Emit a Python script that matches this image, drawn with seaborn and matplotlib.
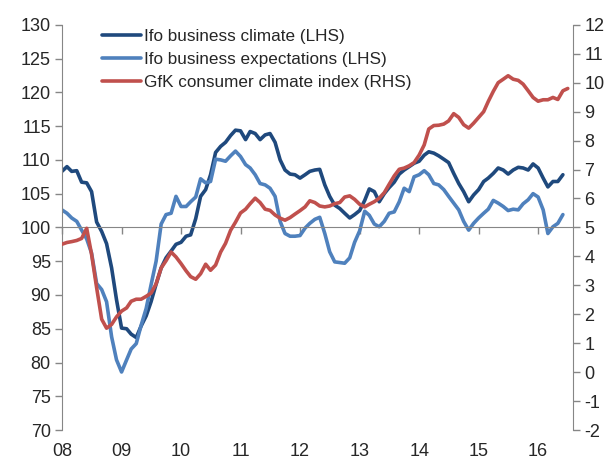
import pandas as pd
import numpy as np
import matplotlib
matplotlib.use('Agg')
import matplotlib.pyplot as plt
import matplotlib.dates as mdates
import seaborn as sns

# Monthly readings, Jan 2008 onwards
ifo_climate = [108.3, 109.0, 108.3, 108.4, 106.7, 106.6, 105.3, 100.8, 99.4, 97.6,
               94.0, 89.3, 85.1, 85.0, 84.2, 83.7, 85.4, 86.9, 89.0, 91.6,
               94.0, 95.5, 96.5, 97.5, 97.8, 98.7, 98.9, 101.3, 104.6, 105.6,
               107.8, 111.1, 112.0, 112.6, 113.6, 114.4, 114.3, 113.0, 114.2, 113.9,
               113.0, 113.7, 113.9, 112.6, 110.0, 108.5, 107.9, 107.8, 107.3, 107.8,
               108.3, 108.5, 108.6, 106.3, 104.6, 103.3, 102.8, 102.1, 101.4, 101.9,
               102.5, 104.0, 105.7, 105.3, 103.8, 105.0, 105.9, 106.7, 107.9, 108.5,
               109.0, 109.5, 109.8, 110.7, 111.2, 111.0, 110.6, 110.1, 109.6, 108.0,
               106.5, 105.3, 103.8, 104.8, 105.6, 106.8, 107.3, 108.0, 108.8, 108.5,
               107.9, 108.5, 108.9, 108.8, 108.5, 109.4, 108.8, 107.3, 106.0, 106.8,
               106.8, 107.8]

ifo_expect = [102.6, 102.1, 101.4, 100.9, 99.6, 98.3, 96.2, 91.7, 90.8, 89.0,
              83.8, 80.4, 78.6, 80.4, 82.0, 82.8, 85.5, 88.0, 91.5, 95.0,
              100.5, 101.9, 102.1, 104.6, 103.1, 103.1, 103.8, 104.5, 107.2, 106.6,
              106.8, 110.1, 110.0, 109.8, 110.6, 111.3, 110.5, 109.3, 108.8, 107.8,
              106.5, 106.3, 105.8, 104.6, 100.9, 99.1, 98.7, 98.7, 98.8, 99.9,
              100.6, 101.2, 101.5, 99.1, 96.4, 94.9, 94.8, 94.7, 95.5, 97.8,
              99.5, 102.4, 101.8, 100.5, 100.1, 100.9, 102.1, 102.3, 103.8, 105.8,
              105.3, 107.5, 107.8, 108.4, 107.8, 106.5, 106.3, 105.6, 104.6, 103.6,
              102.6, 100.9, 99.6, 100.6, 101.4, 102.1, 102.7, 104.0, 103.6, 103.1,
              102.5, 102.7, 102.6, 103.5, 104.1, 105.0, 104.5, 102.6, 99.1, 100.1,
              100.6, 101.9]

gfk = [4.42, 4.48, 4.51, 4.55, 4.62, 4.97, 4.07, 2.92, 1.83, 1.52,
       1.65, 1.91, 2.11, 2.22, 2.45, 2.52, 2.52, 2.62, 2.73, 3.05,
       3.60, 3.85, 4.15, 3.98, 3.75, 3.50, 3.30, 3.21, 3.40, 3.73,
       3.52, 3.70, 4.15, 4.45, 4.90, 5.18, 5.50, 5.63, 5.82, 6.01,
       5.86, 5.63, 5.59, 5.43, 5.32, 5.25, 5.34, 5.46, 5.58, 5.71,
       5.92, 5.86, 5.74, 5.71, 5.74, 5.82, 5.86, 6.05, 6.09, 5.97,
       5.80, 5.71, 5.80, 5.89, 6.01, 6.20, 6.49, 6.78, 7.01, 7.05,
       7.13, 7.24, 7.50, 7.85, 8.40, 8.52, 8.53, 8.57, 8.68, 8.93,
       8.80, 8.55, 8.43, 8.60, 8.80, 9.00, 9.35, 9.70, 10.00, 10.12,
       10.24, 10.12, 10.08, 9.95, 9.72, 9.49, 9.36, 9.41, 9.41, 9.49,
       9.42, 9.72, 9.80]

labels = ['Ifo business climate (LHS)', 'Ifo business expectations (LHS)',
          'GfK consumer climate index (RHS)']
colors = ['#1F497D', '#4F81BD', '#C0504D']

dates_ifo = pd.date_range('2008-01-01', periods=len(ifo_climate), freq='MS')
dates_gfk = pd.date_range('2008-01-01', periods=len(gfk), freq='MS')

sns.set_style('white')
plt.rcParams['font.family'] = ['Liberation Sans', 'DejaVu Sans']
plt.rcParams['axes.unicode_minus'] = False

fig = plt.figure(figsize=(6.13, 4.59), dpi=100)
ax = fig.add_axes([0.101, 0.063, 0.834, 0.883])
ax2 = ax.twinx()

lw = 2.6
sns.lineplot(x=dates_ifo, y=ifo_climate, ax=ax, color=colors[0], linewidth=lw, label=labels[0], legend=False)
sns.lineplot(x=dates_ifo, y=ifo_expect, ax=ax, color=colors[1], linewidth=lw, label=labels[1], legend=False)
sns.lineplot(x=dates_gfk, y=gfk, ax=ax2, color=colors[2], linewidth=lw, label=labels[2], legend=False)

gray = '#868686'
ax.set_ylim(70, 130)
ax.set_yticks(np.arange(70, 131, 5))
ax2.set_ylim(-2, 12)
ax2.set_yticks(np.arange(-2, 13, 1))
ax.set_xlim(pd.Timestamp('2008-01-01'), pd.Timestamp('2016-08-03'))

for a in (ax, ax2):
    for s in a.spines.values():
        s.set_visible(False)
    a.set_xlabel('')
    a.set_ylabel('')
    a.grid(False)

ax.spines['left'].set_visible(True)
ax.spines['left'].set_color(gray)
ax.spines['bottom'].set_visible(True)
ax.spines['bottom'].set_color(gray)
ax.spines['bottom'].set_position(('data', 100))
ax2.spines['right'].set_visible(True)
ax2.spines['right'].set_color(gray)

ax.xaxis.set_major_locator(mdates.YearLocator())
ax.xaxis.set_major_formatter(mdates.DateFormatter('%y'))

ax.tick_params(axis='y', direction='out', length=5, width=1, color=gray, labelsize=13, pad=3, left=True)
ax.tick_params(axis='x', direction='out', length=5, width=1, color=gray, labelbottom=False, bottom=True)
ax2.tick_params(axis='y', direction='out', length=5, width=1, color=gray, labelsize=13, pad=3, right=True)

# year labels sit below the plot, not on the crossing line
ax2.xaxis.set_visible(True)
ax2.tick_params(axis='x', length=0, labelsize=13, pad=9, labelbottom=True, bottom=False, top=False)

handles = ax.get_lines()[:2] + ax2.get_lines()[:1]
ax2.legend(handles, labels, loc='upper left', bbox_to_anchor=(0.078, 0.99),
           frameon=False, fontsize=12.3, handlelength=2.3, handletextpad=0.2,
           labelspacing=0.48, borderaxespad=0, borderpad=0)

fig.savefig('out.png', dpi=100)
